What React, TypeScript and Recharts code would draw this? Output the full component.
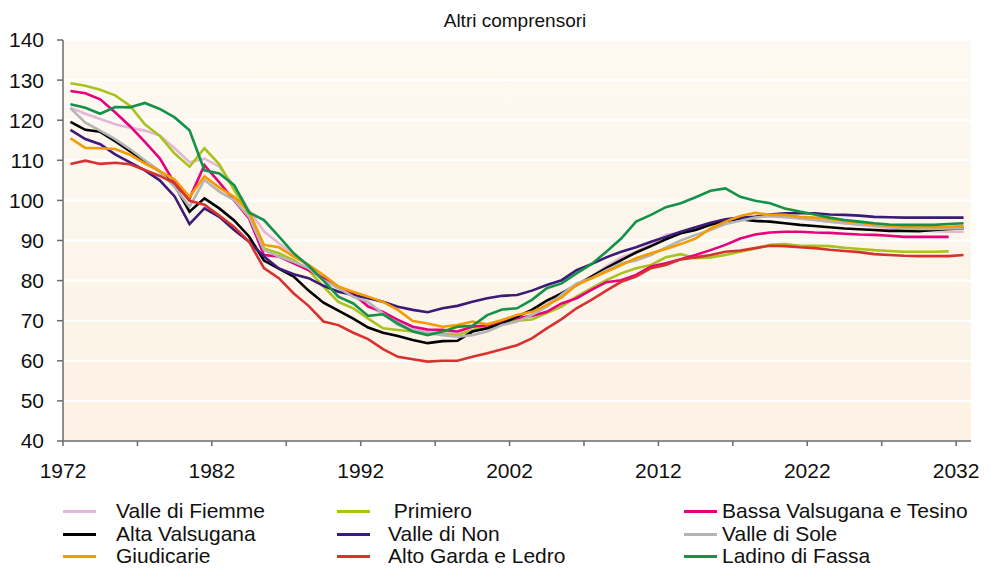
import React from 'react';
import { LineChart, Line, XAxis, YAxis, CartesianGrid } from 'recharts';

const years = [
  1972, 1973, 1974, 1975, 1976, 1977, 1978, 1979, 1980, 1981,
  1982, 1983, 1984, 1985, 1986, 1987, 1988, 1989, 1990, 1991,
  1992, 1993, 1994, 1995, 1996, 1997, 1998, 1999, 2000, 2001,
  2002, 2003, 2004, 2005, 2006, 2007, 2008, 2009, 2010, 2011,
  2012, 2013, 2014, 2015, 2016, 2017, 2018, 2019, 2020, 2021,
  2022, 2023, 2024, 2025, 2026, 2027, 2028, 2029, 2030, 2031, 2032,
];

const valleDiFiemme = [
  123.1, 121.6, 120.3, 119.0, 118.1, 117.4, 116.2, 113.0, 109.5, 110.4,
  108.4, 103.5, 97.5, 92.3, 89.3, 86.6, 83.5, 80.5, 78.0, 76.0,
  74.0, 71.5, 69.5, 68.0, 67.5, 67.0, 67.0, 67.5, 68.0, 69.0,
  70.0, 71.5, 74.0, 77.0, 79.0, 81.0, 83.5, 85.8, 87.2, 89.1,
  91.4, 92.0, 93.0, 94.0, 95.0, 95.5, 96.0, 96.0, 95.8, 95.5,
  95.1, 94.7, 94.3, 93.9, 93.5, 93.1, 92.8, 92.5, 92.3, 92.2, 92.2,
];

const primiero: (number | null)[] = [
  129.2, 128.6, 127.6, 126.2, 123.6, 119.0, 116.1, 111.7, 108.4, 113.0,
  109.0, 102.6, 96.4, 88.0, 86.8, 85.1, 82.6, 78.5, 74.7, 73.1,
  70.5, 68.1, 67.7, 67.3, 66.7, 66.7, 66.4, 67.7, 68.5, 69.8,
  70.0, 70.3, 71.9, 73.5, 76.0, 78.1, 80.1, 81.8, 83.1, 83.9,
  85.8, 86.6, 85.6, 85.8, 86.4, 87.2, 88.0, 88.9, 89.1, 88.7,
  88.7, 88.6, 88.2, 87.9, 87.6, 87.4, 87.2, 87.2, 87.2, 87.3, null,
];

const bassaValsugana: (number | null)[] = [
  127.3, 126.7, 125.2, 122.0, 118.5, 114.6, 110.5, 104.3, 100.5, 108.8,
  104.5, 100.0, 95.5, 86.4, 86.0, 84.3, 82.6, 80.6, 78.5, 76.8,
  73.5, 72.2, 70.2, 68.5, 67.8, 67.7, 67.3, 68.5, 68.9, 69.8,
  70.6, 71.2, 72.2, 74.3, 75.6, 77.7, 79.6, 80.1, 81.4, 83.5,
  84.3, 85.3, 86.4, 87.6, 88.9, 90.5, 91.5, 92.0, 92.2, 92.2,
  92.0, 91.9, 91.7, 91.5, 91.4, 91.2, 90.9, 90.9, 90.9, 90.9, null,
];

const altaValsugana = [
  119.6, 117.6, 117.1, 114.8, 112.3, 109.8, 107.2, 103.8, 97.2, 100.5,
  98.0, 95.0, 91.0, 85.0, 83.0, 81.0, 77.5, 74.5, 72.5, 70.5,
  68.3, 67.0, 66.2, 65.2, 64.4, 64.9, 65.0, 67.3, 68.1, 69.3,
  71.0, 72.7, 75.0, 76.8, 78.9, 81.0, 83.1, 85.1, 87.0, 88.6,
  90.3, 91.8, 92.6, 93.9, 94.9, 95.3, 94.9, 94.7, 94.3, 93.9,
  93.6, 93.3, 93.0, 92.8, 92.6, 92.4, 92.4, 92.3, 92.6, 92.9, 93.0,
];

const valleDiNon = [
  117.6, 115.3, 114.0, 111.5, 109.5, 107.5, 105.0, 101.0, 94.1, 98.0,
  95.9, 92.6, 89.7, 86.0, 83.0, 81.6, 80.6, 78.7, 77.2, 76.4,
  75.6, 74.7, 73.5, 72.7, 72.1, 73.1, 73.7, 74.7, 75.6, 76.2,
  76.4, 77.5, 78.9, 80.1, 82.6, 84.1, 85.8, 87.2, 88.3, 89.7,
  90.9, 92.2, 93.3, 94.4, 95.3, 95.7, 95.9, 96.5, 96.8, 96.8,
  96.8, 96.5, 96.4, 96.2, 95.9, 95.8, 95.7, 95.7, 95.7, 95.7, 95.7,
];

const valleDiSole = [
  123.0, 119.4, 117.4, 115.3, 112.8, 110.0, 107.2, 103.3, 98.4, 105.1,
  102.2, 100.1, 95.9, 87.6, 86.0, 84.7, 83.1, 80.1, 78.1, 76.0,
  74.7, 71.8, 68.9, 67.7, 67.0, 66.4, 66.0, 66.4, 67.3, 68.9,
  69.8, 71.4, 73.5, 76.5, 79.3, 80.6, 82.6, 84.3, 85.0, 86.4,
  88.3, 90.0, 91.4, 92.6, 94.1, 94.9, 95.7, 96.2, 95.9, 95.5,
  95.1, 94.7, 94.3, 94.0, 93.7, 93.4, 93.0, 92.9, 92.9, 93.0, 93.0,
];

const giudicarie = [
  115.5, 113.1, 113.0, 112.8, 111.4, 109.2, 107.3, 105.2, 100.9, 106.0,
  103.2, 100.9, 97.2, 88.9, 88.3, 86.0, 83.9, 81.4, 78.5, 77.2,
  76.0, 74.7, 72.7, 69.9, 69.3, 68.5, 68.9, 69.8, 69.1, 70.2,
  71.4, 72.2, 73.9, 75.8, 78.9, 80.6, 82.2, 83.9, 85.6, 86.8,
  87.9, 89.1, 90.5, 93.0, 94.7, 96.1, 96.9, 96.4, 96.4, 95.9,
  95.7, 95.4, 94.9, 94.5, 94.0, 93.7, 93.4, 93.4, 93.3, 93.4, 93.6,
];

const altoGarda = [
  109.1, 109.9, 109.1, 109.4, 109.0, 107.6, 106.1, 104.3, 99.9, 98.9,
  96.2, 93.4, 89.7, 83.1, 80.6, 76.8, 73.7, 69.8, 68.9, 67.0,
  65.4, 62.9, 61.0, 60.4, 59.8, 60.0, 60.0, 61.0, 61.9, 62.9,
  63.9, 65.6, 68.1, 70.4, 73.1, 75.2, 77.5, 79.7, 81.0, 83.1,
  83.9, 85.3, 85.8, 86.4, 87.2, 87.5, 88.1, 88.7, 88.6, 88.3,
  88.1, 87.7, 87.4, 87.1, 86.6, 86.4, 86.2, 86.1, 86.1, 86.1, 86.4,
];

const ladinoDiFassa = [
  124.0, 123.1, 121.6, 123.3, 123.2, 124.3, 122.8, 120.7, 117.5, 107.5,
  106.7, 103.8, 97.0, 95.1, 91.0, 86.8, 83.7, 80.0, 76.0, 74.3,
  71.2, 71.6, 69.3, 67.3, 66.4, 67.3, 68.5, 68.7, 71.4, 72.8,
  73.1, 75.2, 78.1, 79.3, 81.8, 84.1, 87.2, 90.5, 94.7, 96.4,
  98.3, 99.3, 100.8, 102.4, 103.0, 100.9, 99.9, 99.3, 98.0, 97.2,
  96.5, 95.7, 95.1, 94.7, 94.3, 94.0, 93.9, 93.9, 93.9, 94.1, 94.3,
];

const xTicks = [
  1971.5, 1976.5, 1981.5, 1986.5, 1991.5, 1996.5, 2001.5,
  2006.5, 2011.5, 2016.5, 2021.5, 2026.5, 2031.5,
];
const xTickLabels = ['1972', '', '1982', '', '1992', '', '2002', '', '2012', '', '2022', '', '2032'];
const yTicks = [40, 50, 60, 70, 80, 90, 100, 110, 120, 130, 140];

const title = 'Altri comprensori';

const seriesDefs = [
  { key: 'fiemme', name: 'Valle di Fiemme', color: '#e2b7d8', values: valleDiFiemme },
  { key: 'primiero', name: ' Primiero', color: '#a9c31c', values: primiero },
  { key: 'bassa', name: 'Bassa Valsugana e Tesino', color: '#e6007e', values: bassaValsugana },
  { key: 'alta', name: 'Alta Valsugana', color: '#000000', values: altaValsugana },
  { key: 'non', name: 'Valle di Non', color: '#3c1a78', values: valleDiNon },
  { key: 'sole', name: 'Valle di Sole', color: '#b5b5b5', values: valleDiSole },
  { key: 'giud', name: 'Giudicarie', color: '#f49b00', values: giudicarie },
  { key: 'garda', name: 'Alto Garda e Ledro', color: '#d7322f', values: altoGarda },
  { key: 'fassa', name: 'Ladino di Fassa', color: '#14924a', values: ladinoDiFassa },
];

const data = years.map((year, i) => {
  const row: Record<string, number | null> = { year };
  seriesDefs.forEach((s) => {
    row[s.key] = s.values[i];
  });
  return row;
});

const FONT = '"Liberation Sans", Arial, Helvetica, sans-serif';

const legendCols = [
  { lineX: 63, textX: 116 },
  { lineX: 337, textX: 388 },
  { lineX: 684, textX: 722 },
];
const legendRowTop = [500, 523, 545];

export default function App() {
  return (
    <div style={{ position: 'absolute', left: 0, top: 0, width: 991, height: 570, background: '#fff', fontFamily: FONT }}>
      <svg width={0} height={0} style={{ position: 'absolute' }}>
        <defs>
          <linearGradient id="plotBg" x1="0" y1="0" x2="0" y2="1">
            <stop offset="0%" stopColor="#fdf9f2" />
            <stop offset="100%" stopColor="#fcf2e4" />
          </linearGradient>
        </defs>
      </svg>
      <div
        style={{
          position: 'absolute',
          left: 365,
          top: 11,
          width: 300,
          textAlign: 'center',
          fontSize: 19,
          lineHeight: '19px',
          color: '#111',
        }}
      >
        {title}
      </div>
      <LineChart
        width={991}
        height={570}
        data={data}
        margin={{ top: 40, right: 20, left: 0, bottom: 89 }}
      >
        <CartesianGrid
          vertical={false}
          stroke="#ffffff"
          strokeWidth={2}
          fill="url(#plotBg)"
          fillOpacity={1}
        />
        <XAxis
          dataKey="year"
          type="number"
          domain={[1971.5, 2032.5]}
          ticks={xTicks}
          interval={0}
          height={40}
          tickSize={5}
          tickMargin={17}
          stroke="#6b6b6b"
          strokeWidth={1.5}
          tick={{ fontSize: 21, fill: '#111', fontFamily: FONT }}
          tickFormatter={(v: number) => xTickLabels[xTicks.indexOf(v)] ?? ''}
        />
        <YAxis
          domain={[40, 140]}
          ticks={yTicks}
          interval={0}
          width={63}
          tickSize={6}
          tickMargin={13}
          stroke="#6b6b6b"
          strokeWidth={1.5}
          tick={{ fontSize: 21, fill: '#111', fontFamily: FONT }}
        />
        {seriesDefs.map((s) => (
          <Line
            key={s.key}
            type="linear"
            dataKey={s.key}
            name={s.name}
            stroke={s.color}
            strokeWidth={2.6}
            dot={false}
            activeDot={false}
            isAnimationActive={false}
          />
        ))}
      </LineChart>
      {seriesDefs.map((s, i) => {
        const col = legendCols[i % 3];
        const top = legendRowTop[Math.floor(i / 3)];
        return (
          <div key={s.key} style={{ position: 'absolute', left: 0, top, height: 21 }}>
            <div
              style={{
                position: 'absolute',
                left: col.lineX,
                top: 10,
                width: 33,
                height: 3,
                background: s.color,
              }}
            />
            <div
              style={{
                position: 'absolute',
                left: col.textX,
                top: 0,
                fontSize: 21,
                lineHeight: '21px',
                whiteSpace: 'pre',
                color: '#111',
              }}
            >
              {s.name}
            </div>
          </div>
        );
      })}
    </div>
  );
}
